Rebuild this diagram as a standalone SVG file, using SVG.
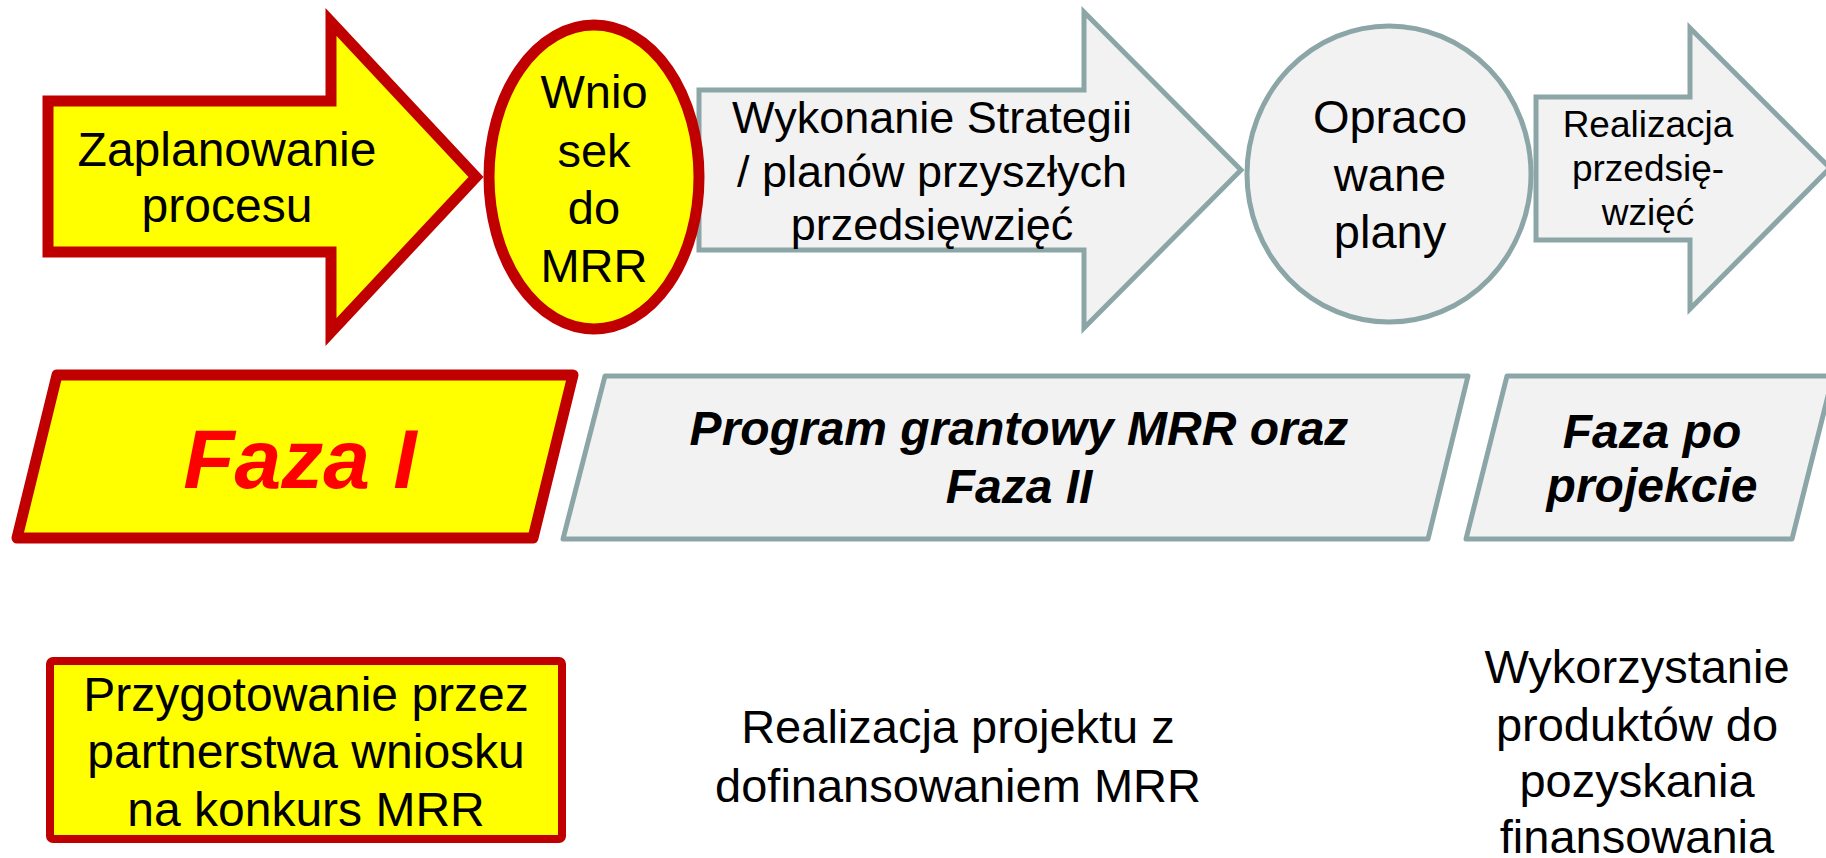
<svg xmlns="http://www.w3.org/2000/svg" width="1826" height="858" viewBox="0 0 1826 858">
<style>
.red{fill:#FFFF00;stroke:#C00000;stroke-width:11;stroke-linejoin:miter}
.gray{fill:#F2F2F2;stroke:#8CA6A8;stroke-width:5;stroke-linejoin:miter}
.pr{fill:#FFFF00;stroke:#C00000;stroke-width:11;stroke-linejoin:round}
.pg{fill:#F2F2F2;stroke:#8CA6A8;stroke-width:5;stroke-linejoin:round}
text{font-family:"Liberation Sans",Arial,sans-serif;fill:#000;text-anchor:middle}
.bi{font-weight:bold;font-style:italic}
</style>
<rect width="1826" height="858" fill="#FFFFFF"/>
<g id="arrow-zaplanowanie">
<polygon class="red" points="48,101 331,101 331,22 476,177 331,332 331,252 48,252"/>
<text font-size="48"><tspan x="227" y="166">Zaplanowanie</tspan><tspan x="227" y="222">procesu</tspan></text>
</g>
<g id="arrow-wykonanie">
<polygon class="gray" points="699,90 1084,90 1084,12 1241,170 1084,328 1084,250 699,250"/>
<text font-size="45"><tspan x="932" y="133">Wykonanie Strategii</tspan><tspan x="932" y="187">/ planów przyszłych</tspan><tspan x="932" y="240">przedsięwzięć</tspan></text>
</g>
<g id="ellipse-wniosek">
<ellipse class="red" cx="594" cy="177" rx="105" ry="152"/>
<text font-size="47"><tspan x="594" y="108">Wnio</tspan><tspan x="594" y="167">sek</tspan><tspan x="594" y="224">do</tspan><tspan x="594" y="282">MRR</tspan></text>
</g>
<g id="circle-plany">
<ellipse class="gray" cx="1389" cy="174" rx="142" ry="148"/>
<text font-size="47"><tspan x="1390" y="133">Opraco</tspan><tspan x="1390" y="191">wane</tspan><tspan x="1390" y="248">plany</tspan></text>
</g>
<g id="arrow-realizacja">
<polygon class="gray" points="1536,97 1690,97 1690,28 1830,168 1690,309 1690,240 1536,240"/>
<text font-size="37"><tspan x="1648" y="137">Realizacja</tspan><tspan x="1648" y="181">przedsię-</tspan><tspan x="1648" y="225">wzięć</tspan></text>
</g>
<g id="phase-1">
<polygon class="pr" points="57,375 573,375 533,538 17,538"/>
<text class="bi" font-size="84" x="300" y="488" style="fill:#FF0000">Faza I</text>
</g>
<g id="phase-2">
<polygon class="pg" points="605,376 1468,376 1428,539 563,539"/>
<text class="bi" font-size="48"><tspan x="1019" y="445">Program grantowy MRR oraz</tspan><tspan x="1019" y="503">Faza II</tspan></text>
</g>
<g id="phase-3">
<polygon class="pg" points="1507,376 1833,376 1792,539 1466,539"/>
<text class="bi" font-size="48"><tspan x="1652" y="448">Faza po</tspan><tspan x="1652" y="502">projekcie</tspan></text>
</g>
<g id="box-przygotowanie">
<rect x="50" y="661" width="512" height="178" rx="3" fill="#FFFF00" stroke="#C00000" stroke-width="8"/>
<text font-size="48"><tspan x="306" y="711">Przygotowanie przez</tspan><tspan x="306" y="768">partnerstwa wniosku</tspan><tspan x="306" y="826">na konkurs MRR</tspan></text>
</g>
<g id="text-realizacja-projektu">
<text font-size="47"><tspan x="958" y="743">Realizacja projektu z</tspan><tspan x="958" y="802">dofinansowaniem MRR</tspan></text>
</g>
<g id="text-wykorzystanie">
<text font-size="47"><tspan x="1637" y="683">Wykorzystanie</tspan><tspan x="1637" y="741">produktów do</tspan><tspan x="1637" y="797">pozyskania</tspan><tspan x="1637" y="853">finansowania</tspan></text>
</g>
<g id="connectors"></g>
</svg>
